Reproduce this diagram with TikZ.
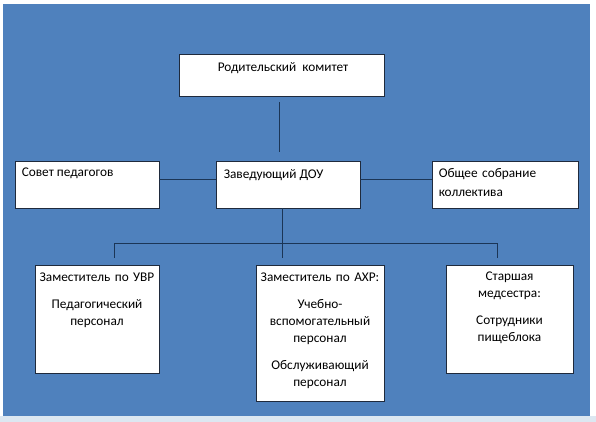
\documentclass[tikz,border=0pt]{standalone}
\usepackage{fontspec}
\setmainfont{Carlito}
\definecolor{bgblue}{HTML}{4F81BD}
\definecolor{frame}{HTML}{1F2A3C}
\definecolor{wire}{HTML}{1B3556}
\definecolor{strip}{HTML}{DCE7F1}
\newcommand{\busY}{243}
\newcommand{\busX}{282.5}

\begin{document}
\begin{tikzpicture}[x=1pt,y=-1pt,
        box/.style={draw=frame,fill=white,line width=0.9pt,inner sep=0pt},
        txt/.style={inner sep=0pt,text=black,font=\fontsize{13.3}{17}\selectfont},
        link/.style={draw=wire,line width=1pt}]

        % Background
        \useasboundingbox (0,0) rectangle (596,422);
        \fill[white] (0,0) rectangle (596,422);
        \fill[strip] (0,416) rectangle (596,422);
        \fill[bgblue] (3,4) rectangle (590,416);

        % Boxes
        \node[box,minimum width=205,minimum height=42] (rodit) at (281.5,75) {};
        \node[box,minimum width=144,minimum height=47] (sovet) at (87,184.5) {};
        \node[box,minimum width=144,minimum height=47] (zaved) at (288,184.5) {};
        \node[box,minimum width=146,minimum height=47] (obshee) at (505,184.5) {};
        \node[box,minimum width=124,minimum height=108] (uvr) at (97,319) {};
        \node[box,minimum width=128,minimum height=136] (axr) at (320,333) {};
        \node[box,minimum width=127,minimum height=108] (med) at (509.5,319) {};

        % Texts
        \node[txt,anchor=base] (rodit-t) at ([xshift=1.5pt,yshift=-18pt]rodit.north) {Родительский\ \ комитет};
        \node[txt,anchor=base west] (sovet-t) at ([xshift=7pt,yshift=-16pt]sovet.north west) {Совет педагогов};
        \node[txt,anchor=base west] (zaved-t) at ([xshift=8pt,yshift=-18pt]zaved.north west) {Заведующий ДОУ};
        \node[txt,anchor=base west,text width=135pt,align=left] (obshee-t) at ([xshift=7pt,yshift=-17pt]obshee.north west)
            {Общее собрание\\[2pt] коллектива};
        \node[txt,anchor=base,text width=124pt,align=center] (uvr-t) at ([yshift=-17pt]uvr.north)
            {Заместитель по УВР\\[10pt] Педагогический\\ персонал};
        \node[txt,anchor=base,text width=128pt,align=center] (axr-t) at ([yshift=-17pt]axr.north)
            {Заместитель по АХР:\\[10pt] Учебно-\\ вспомогательный\\ персонал\\[10pt] Обслуживающий\\ персонал};
        \node[txt,anchor=base,text width=127pt,align=center] (med-t) at ([yshift=-16pt]med.north)
            {Старшая\\ медсестра:\\[10pt] Сотрудники\\ пищеблока};

        % Links
        \draw[link,shorten <=6pt,shorten >=9pt] ([xshift=-2.5pt]rodit.south) -- ([xshift=-2.5pt]rodit.south |- zaved.north);
        \draw[link] ([yshift=5.5pt]sovet.east) -- ([yshift=5.5pt]zaved.west);
        \draw[link] ([yshift=5.5pt]zaved.east) -- ([yshift=5.5pt]obshee.west);

        % Bus to the lower boxes
        \coordinate (bus) at (\busX,\busY);
        \draw[link] (bus |- zaved.south) -- (bus);
        \draw[link,shorten >=7pt] (bus) -| ([xshift=17pt]uvr.north);
        \draw[link,shorten >=7pt] (bus) -- (bus |- axr.north);
        \draw[link,shorten >=7pt] (bus) -| ([xshift=-12.5pt]med.north);
    \end{tikzpicture}
\end{document}
